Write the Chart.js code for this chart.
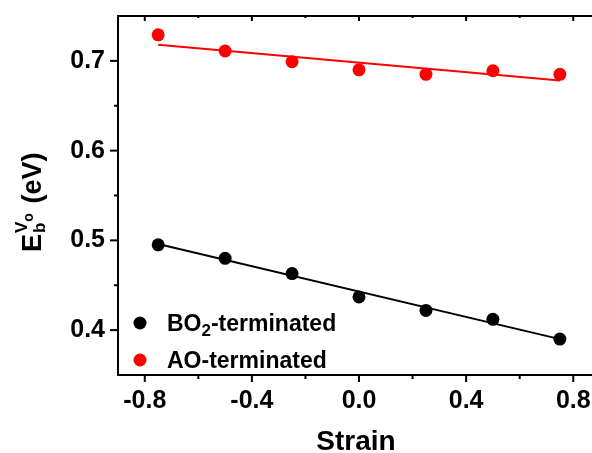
<!DOCTYPE html>
<html>
<head>
<meta charset="utf-8">
<script src="https://cdn.jsdelivr.net/npm/chart.js@4.4.0/dist/chart.umd.min.js"></script>
<style>
  body { margin: 0; background: #fff; overflow: hidden; }
  canvas { display: block; }
</style>
</head>
<body>
<canvas id="c" width="592" height="453"></canvas>
<script>
// data
const strain = [-0.75, -0.5, -0.25, 0, 0.25, 0.5, 0.75];
const bo2Vals = [0.495, 0.480, 0.463, 0.437, 0.422, 0.412, 0.390];
const aoVals = [0.729, 0.711, 0.699, 0.690, 0.685, 0.689, 0.685];
const fitX = [-0.75, 0.75];
const bo2Fit = [0.496, 0.390];
const aoFit = [0.718, 0.678];
// tick positions (labelled ones are the majors)
const xTickVals = [-0.8, -0.6, -0.4, -0.2, 0.0, 0.2, 0.4, 0.6, 0.8];
const xTicks = [-0.8, -0.4, 0.0, 0.4, 0.8];
const yTickVals = [0.4, 0.45, 0.5, 0.55, 0.6, 0.65, 0.7];
const yTicks = [0.4, 0.5, 0.6, 0.7];

const FONT = '"Liberation Sans", Arial, sans-serif';

function pts(xs, ys) {
    return xs.map((x, i) => ({ x: x, y: ys[i] }));
}

function isMajor(v, list) {
    return list.some(t => Math.abs(t - v) < 1e-6);
}

// axes frame, ticks, legend and titles
const decor = {
    id: 'decor',
    afterDraw(chart) {
        const ctx = chart.ctx;
        const a = chart.chartArea;
        const xs = chart.scales.x, ys = chart.scales.y;
        ctx.save();
        ctx.strokeStyle = '#000';
        ctx.lineWidth = 2;
        ctx.beginPath();
        ctx.moveTo(a.left - 1, a.bottom); ctx.lineTo(chart.width, a.bottom);
        ctx.moveTo(a.left, a.bottom + 1); ctx.lineTo(a.left, a.top - 1);
        ctx.moveTo(a.left - 1, a.top); ctx.lineTo(chart.width, a.top);
        ctx.stroke();

        // x ticks: outward at bottom, inward at top
        xs.ticks.forEach(t => {
            const px = xs.getPixelForValue(t.value);
            const len = isMajor(t.value, xTicks) ? 7 : 4;
            ctx.beginPath();
            ctx.moveTo(px, a.bottom); ctx.lineTo(px, a.bottom + len);
            ctx.moveTo(px, a.top); ctx.lineTo(px, a.top + len - 2);
            ctx.stroke();
        });
        // y ticks: outward on the left
        ys.ticks.forEach(t => {
            const py = ys.getPixelForValue(t.value);
            const len = isMajor(t.value, yTicks) ? 8 : 4;
            ctx.beginPath();
            ctx.moveTo(a.left, py); ctx.lineTo(a.left - len, py);
            ctx.stroke();
        });

        // legend
        ctx.textBaseline = 'alphabetic';
        ctx.textAlign = 'left';
        const items = [
            { color: '#000', main: 'BO', sub: '2', rest: '-terminated', y: 323 },
            { color: '#ff0000', main: 'AO-terminated', sub: '', rest: '', y: 360 }
        ];
        items.forEach(it => {
            ctx.fillStyle = it.color;
            ctx.beginPath();
            ctx.arc(140, it.y, 6.5, 0, Math.PI * 2);
            ctx.fill();
            ctx.fillStyle = '#000';
            let x = 167;
            const base = it.y + 8;
            ctx.font = 'bold 23px ' + FONT;
            ctx.fillText(it.main, x, base);
            x += ctx.measureText(it.main).width;
            if (it.sub) {
                ctx.font = 'bold 17px ' + FONT;
                ctx.fillText(it.sub, x, base + 5);
                x += ctx.measureText(it.sub).width;
                ctx.font = 'bold 23px ' + FONT;
                ctx.fillText(it.rest, x, base);
            }
        });

        // x title
        ctx.font = 'bold 28px ' + FONT;
        ctx.textAlign = 'center';
        ctx.fillText('Strain', 356, 450);

        // y title, rotated
        ctx.translate(41, 252);
        ctx.rotate(-Math.PI / 2);
        ctx.textAlign = 'left';
        ctx.font = 'bold 27px ' + FONT;
        ctx.fillText('E', 0, 0);
        let tx = ctx.measureText('E').width + 1;
        ctx.font = 'bold 17px ' + FONT;
        ctx.fillText('b', tx, 4);
        ctx.fillText('V', tx, -14);
        const vw = ctx.measureText('V').width;
        ctx.font = 'bold 14px ' + FONT;
        ctx.fillText('o', tx + vw, -8);
        tx += vw + ctx.measureText('o').width + 2;
        ctx.font = 'bold 27px ' + FONT;
        ctx.fillText(' (eV)', tx, 0);
        ctx.restore();
    }
};

function noPad(s) {
    s.paddingTop = 0; s.paddingBottom = 0;
    s.paddingLeft = 0; s.paddingRight = 0;
}

new Chart(document.getElementById('c'), {
    type: 'scatter',
    data: {
        datasets: [
            { label: 'BO2 fit', type: 'line', data: pts(fitX, bo2Fit), borderColor: '#000', borderWidth: 2, pointRadius: 0, fill: false },
            { label: 'AO fit', type: 'line', data: pts(fitX, aoFit), borderColor: '#ff0000', borderWidth: 2, pointRadius: 0, fill: false },
            { label: 'BO2-terminated', data: pts(strain, bo2Vals), backgroundColor: '#000', borderWidth: 0, pointRadius: 6.5 },
            { label: 'AO-terminated', data: pts(strain, aoVals), backgroundColor: '#ff0000', borderWidth: 0, pointRadius: 6.5 }
        ]
    },
    options: {
        responsive: false,
        animation: false,
        devicePixelRatio: 1,
        layout: { autoPadding: false, padding: { left: 0, right: 0, top: 16, bottom: 0 } },
        plugins: { legend: { display: false }, tooltip: { enabled: false } },
        scales: {
            x: {
                type: 'linear', min: -0.9, max: 0.87,
                grid: { display: false, drawTicks: false },
                border: { display: false },
                afterBuildTicks: s => { s.ticks = xTickVals.map(v => ({ value: v })); },
                afterFit: s => { s.height = 78; noPad(s); },
                ticks: {
                    padding: 11, color: '#000', autoSkip: false, maxRotation: 0,
                    font: { family: FONT, size: 25, weight: 'bold' },
                    callback: v => isMajor(v, xTicks) ? v.toFixed(1) : ''
                }
            },
            y: {
                type: 'linear', min: 0.35, max: 0.75,
                grid: { display: false, drawTicks: false },
                border: { display: false },
                afterBuildTicks: s => { s.ticks = yTickVals.map(v => ({ value: v })); },
                afterFit: s => { s.width = 118; noPad(s); },
                ticks: {
                    padding: 13, color: '#000', autoSkip: false,
                    font: { family: FONT, size: 25, weight: 'bold' },
                    callback: v => isMajor(v, yTicks) ? v.toFixed(1) : ''
                }
            }
        }
    },
    plugins: [decor]
});
</script>
</body>
</html>
